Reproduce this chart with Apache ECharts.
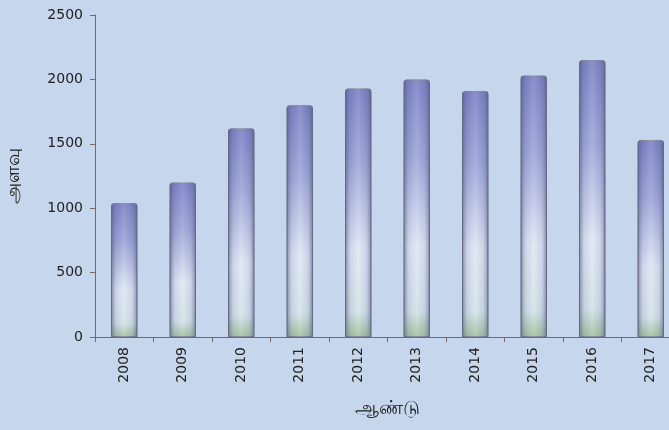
<!DOCTYPE html>
<html>
<head>
<meta charset="UTF-8">
<title>அளவு</title>
<script src="https://cdn.jsdelivr.net/npm/echarts@6/dist/echarts.min.js"></script>
<style>
  html, body { margin: 0; padding: 0; background: #c6d6ec; }
  #main { width: 669px; height: 430px; }
</style>
</head>
<body>
<div id="main"></div>
<script type="text/javascript">
var years = ['2008', '2009', '2010', '2011', '2012', '2013', '2014', '2015', '2016', '2017'];
var amounts = [1040, 1200, 1620, 1800, 1930, 2000, 1910, 2030, 2150, 1530];
var yTicks = [0, 500, 1000, 1500, 2000, 2500];

var chart = echarts.init(document.getElementById('main'));

// vertical shading: purple top, pale middle, green foot
var vGrad = new echarts.graphic.LinearGradient(0, 0, 0, 1, [
	{ offset: 0, color: '#777cc2' },
	{ offset: 0.3, color: '#9aa2d6' },
	{ offset: 0.65, color: '#dde6f4' },
	{ offset: 0.9, color: '#d2e0e8' },
	{ offset: 1, color: '#9dbf98' }
]);
// horizontal shading: darker sides
var hGrad = new echarts.graphic.LinearGradient(0, 0, 1, 0, [
	{ offset: 0, color: 'rgba(70,75,110,0.6)' },
	{ offset: 0.2, color: 'rgba(120,125,170,0.15)' },
	{ offset: 0.5, color: 'rgba(255,255,255,0.15)' },
	{ offset: 0.8, color: 'rgba(120,125,170,0.15)' },
	{ offset: 1, color: 'rgba(70,75,110,0.6)' }
]);

var option = {
	backgroundColor: '#c6d6ec',
	animation: false,
	grid: { left: 95, top: 15, width: 585, height: 322, outerBoundsMode: 'none' },
	xAxis: {
		type: 'category',
		data: years,
		name: 'ஆண்டு',
		nameLocation: 'middle',
		nameGap: 62,
		nameTextStyle: { fontSize: 19, color: '#222' },
		axisLine: { lineStyle: { color: '#7a6a5a' } },
		axisTick: { show: true, length: 5, lineStyle: { color: '#7a6a5a' } },
		axisLabel: { rotate: 90, fontSize: 14, color: '#222', margin: 10, fontFamily: 'DejaVu Sans' }
	},
	yAxis: {
		type: 'value',
		min: 0,
		max: 2500,
		interval: 500,
		name: 'அளவு',
		nameLocation: 'middle',
		nameGap: 72,
		nameRotate: 90,
		nameTextStyle: { fontSize: 19, color: '#222' },
		axisLine: { show: true, lineStyle: { color: '#7a6a5a' } },
		axisTick: { show: true, length: 5, lineStyle: { color: '#7a6a5a' } },
		splitLine: { show: false },
		axisLabel: {
			fontSize: 14, color: '#222', margin: 12, fontFamily: 'DejaVu Sans',
			formatter: function (v) { return yTicks.indexOf(v) >= 0 ? String(v) : ''; }
		}
	},
	series: [
		{
			type: 'bar',
			data: amounts,
			barWidth: '45%',
			itemStyle: { color: vGrad, borderColor: '#7d8490', borderWidth: 1, borderRadius: [3, 3, 0, 0] }
		},
		{
			type: 'bar',
			data: amounts,
			barWidth: '45%',
			barGap: '-100%',
			silent: true,
			itemStyle: { color: hGrad, borderRadius: [3, 3, 0, 0] }
		}
	]
};
chart.setOption(option);
</script>
</body>
</html>
